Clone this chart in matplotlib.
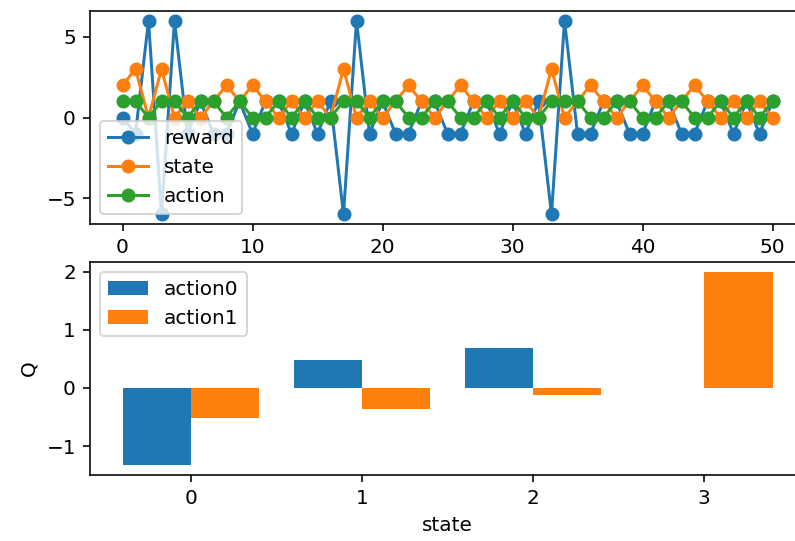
import numpy as np
import matplotlib
matplotlib.use("Agg")
import matplotlib.pyplot as plt

# episode log: 51 steps
steps = list(range(51))
reward = [0, -1, 6, -6, 6, -1, 1, -1, -1, 1,
          -1, 1, 1, -1, 1, -1, 1, -6, 6, -1,
          1, -1, -1, 1, 1, -1, -1, 1, 1, -1,
          1, -1, 1, -6, 6, -1, -1, 1, 1, -1,
          -1, 1, 1, -1, -1, 1, 1, -1, 1, -1,
          1]
state = [2, 3, 0, 3, 0, 1, 0, 1, 2, 1,
         2, 1, 0, 1, 0, 1, 0, 3, 0, 1,
         0, 1, 2, 1, 0, 1, 2, 1, 0, 1,
         0, 1, 0, 3, 0, 1, 2, 1, 0, 1,
         2, 1, 0, 1, 2, 1, 0, 1, 0, 1,
         0]
action = [1, 1, 0, 1, 1, 0, 1, 1, 0, 1,
          0, 0, 1, 0, 1, 0, 0, 1, 1, 0,
          1, 1, 0, 0, 1, 1, 0, 0, 1, 0,
          1, 0, 0, 1, 1, 1, 0, 0, 1, 1,
          0, 0, 1, 1, 0, 0, 1, 0, 1, 0,
          1]

# Q table
states = [0, 1, 2, 3]
q_action0 = [-1.33, 0.48, 0.68, 0.0]
q_action1 = [-0.52, -0.36, -0.12, 2.0]

dpi = 144
fig = plt.figure(figsize=(795 / dpi, 541 / dpi), dpi=dpi)
# the right edge of the axes runs past the picture, like the reference
ax1 = fig.add_axes([90 / 795, 1 - 224 / 541, 715 / 795, 213 / 541])
ax2 = fig.add_axes([90 / 795, 1 - 475 / 541, 715 / 795, 213 / 541])

ax1.plot(steps, reward, "o-", label="reward")
ax1.plot(steps, state, "o-", label="state")
ax1.plot(steps, action, "o-", label="action")
ax1.legend(loc="lower left")

x = np.arange(len(states))
w = 0.4
ax2.bar(x - w / 2, q_action0, w, label="action0")
ax2.bar(x + w / 2, q_action1, w, label="action1")
ax2.set_xticks(x)
ax2.set_xticklabels([str(s) for s in states])
ax2.set_xlabel("state")
ax2.set_ylabel("Q")
ax2.legend(loc="upper left")

fig.savefig("out.png", dpi=dpi)
